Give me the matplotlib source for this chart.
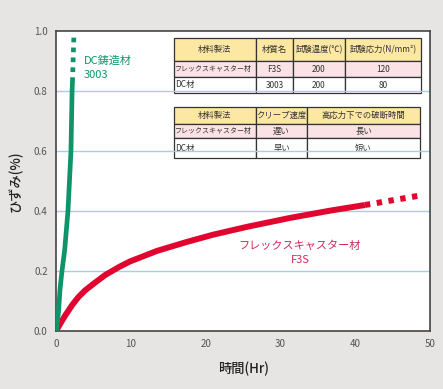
import matplotlib.pyplot as plt

plt.rcParams['font.family'] = ['Noto Sans CJK JP', 'DejaVu Sans']

# DC鋳造材 3003 (実線部分 + 点線の延長)
dc_t = [0, 0.1, 0.35, 0.53, 0.8, 1.16, 1.6, 2.0, 2.15, 2.2]
dc_y = [0, 0.005, 0.07, 0.137, 0.20, 0.27, 0.40, 0.60, 0.80, 0.83]
dc_t_ext = [2.2, 2.4]
dc_y_ext = [0.83, 0.99]

# フレックスキャスター材 F3S
f3s_t = [0, 0.58, 1.24, 2.14, 3.03, 3.92, 5.26, 6.6, 8.4, 9.9, 13.5, 17.5,
         21, 25.5, 31.3, 36.6, 41.3]
f3s_y = [0, 0.025, 0.052, 0.086, 0.114, 0.136, 0.162, 0.187, 0.213, 0.232,
         0.267, 0.297, 0.321, 0.347, 0.377, 0.401, 0.42]
f3s_t_ext = [41.3, 49]
f3s_y_ext = [0.42, 0.453]

yticks = [0.0, 0.2, 0.4, 0.6, 0.8, 1.0]
xticks = [0, 10, 20, 30, 40, 50]

table1 = [["材料製法", "材質名", "試験温度(℃)", "試験応力(N/mm²)"],
          ["フレックスキャスター材", "F3S", "200", "120"],
          ["DC材", "3003", "200", "80"]]
table2 = [["材料製法", "クリープ速度", "高応力下での破断時間"],
          ["フレックスキャスター材", "遅い", "長い"],
          ["DC材", "早い", "短い"]]

green = "#0e9468"
red = "#e0062f"
bg = "#e6e5e3"

fig = plt.figure(figsize=(4.43, 3.89), dpi=100, facecolor=bg)
ax = fig.add_axes([56/443, 58/389, 374/443, 300/389])
ax.set_facecolor("white")

for v in yticks[1:-1]:
    ax.axhline(v, color="#9dd3e8", lw=1, zorder=1)

ax.plot(f3s_t, f3s_y, color=red, lw=4.3, solid_capstyle="butt",
        solid_joinstyle="round", zorder=3)
ax.plot(f3s_t_ext, f3s_y_ext, color=red, lw=4.3, dashes=(0.9, 1.1), zorder=3)
ax.plot(dc_t, dc_y, color=green, lw=3.4, solid_capstyle="butt",
        solid_joinstyle="round", zorder=4)
ax.plot(dc_t_ext, dc_y_ext, color=green, lw=3.4, dashes=(1.0, 1.1), zorder=4)

ax.set_xlim(0, 50)
ax.set_ylim(0, 1.0)
ax.set_xticks(xticks)
ax.set_yticks(yticks)
ax.set_xticklabels([str(x) for x in xticks])
ax.set_yticklabels(["%.1f" % y for y in yticks])
ax.tick_params(length=0, labelsize=7, colors="#555555", pad=6)
for s in ax.spines.values():
    s.set_color("#444444")
    s.set_linewidth(1.2)

ax.set_xlabel("時間(Hr)", fontsize=9.5, color="#222222", labelpad=9,
              fontweight="medium")
ax.set_ylabel("ひずみ(%)", fontsize=9.5, color="#222222", labelpad=8,
              fontweight="medium")

ax.text(3.7, 0.877, "DC鋳造材\n3003", color=green, fontsize=8, va="center",
        ha="left", linespacing=1.45)
ax.text(32.6, 0.26, "フレックスキャスター材\nF3S", color="#d0285a", fontsize=8,
        va="center", ha="center", linespacing=1.45)


def draw_table(rows, bbox, colw, rowh):
    tb = ax.table(cellText=rows, bbox=bbox, colWidths=colw, cellLoc="center")
    tb.auto_set_font_size(False)
    fills = ["#fde8a3", "#fbe2e6", "white"]
    for (r, c), cell in tb.get_celld().items():
        cell.set_facecolor(fills[r])
        cell.set_edgecolor("#333333")
        cell.set_linewidth(0.9)
        cell.set_height(rowh[r])
        txt = cell.get_text()
        txt.set_fontsize(6)
        txt.set_color("#333333")
        if c == 0 and r > 0:
            txt.set_ha("left")
            if len(txt.get_text()) > 6:
                txt.set_fontsize(5.0)
            cell.PAD = 0.015
    return tb


draw_table(table1, [(174-56)/374, (331-93)/300, 247/374, 55/300],
           [82, 37, 52, 76], [23/300, 16/300, 16/300])
draw_table(table2, [(174-56)/374, (331-158)/300, 246/374, 51/300],
           [82, 51, 113], [17/300, 14/300, 20/300])

fig.savefig("out.png", dpi=100, facecolor=bg)
